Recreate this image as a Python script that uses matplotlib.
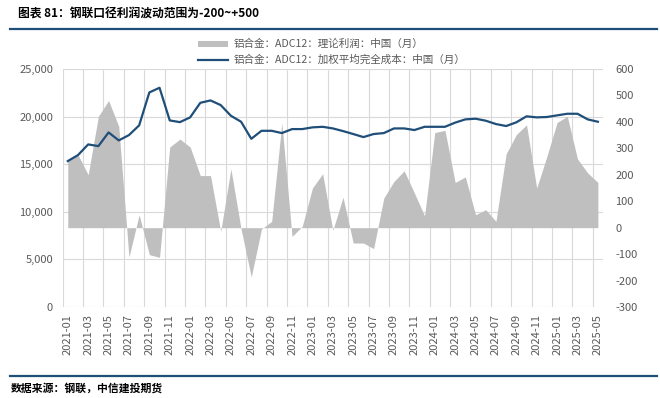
import matplotlib
matplotlib.use("Agg")
import matplotlib.pyplot as plt
import numpy as np
import pandas as pd

plt.rcParams["font.family"] = ["Noto Sans CJK SC", "DejaVu Sans"]
plt.rcParams["axes.unicode_minus"] = False

# ── Data ──────────────────────────────────────────────────────
months = pd.period_range("2021-01", "2025-05", freq="M").strftime("%Y-%m").tolist()

cost = [15330, 15960, 17080, 16900, 18340, 17500, 18060, 19080, 22540, 23030,
        19600, 19420, 19920, 21450, 21700, 21210, 20090, 19460, 17670, 18510,
        18510, 18270, 18690, 18690, 18870, 18930, 18760, 18480, 18170, 17850,
        18170, 18270, 18760, 18760, 18590, 18930, 18930, 18930, 19370, 19710,
        19780, 19570, 19220, 19010, 19400, 20030, 19920, 19960, 20130, 20300,
        20300, 19710, 19460]

profit = [257, 276, 200, 421, 481, 383, -111, 49, -102, -112,
          305, 335, 305, 197, 197, -14, 222, -5, -186, -5,
          24, 396, -33, 5, 150, 204, -10, 115, -58, -58,
          -79, 112, 175, 215, 131, 45, 360, 368, 171, 192,
          49, 68, 24, 279, 352, 389, 150, 270, 398, 421,
          260, 207, 171]

profit_label = "铝合金：ADC12：理论利润：中国（月）"
cost_label = "铝合金：ADC12：加权平均完全成本：中国（月）"

NAVY = "#1F4E79"
GREY_AREA = "#BFBFBF"
GRID = "#D9D9D9"
TICK = "#595959"

x = np.arange(len(months))

fig = plt.figure(figsize=(6.6, 3.98), dpi=100)
ax = fig.add_axes([0.095, 0.2286, 0.8186, 0.598])

# left axis: grid + ticks only
ax.set_xlim(-0.5, len(months) - 0.5)
ax.set_ylim(0, 25000)
ax.set_yticks(np.arange(0, 25001, 5000))
ax.set_yticklabels([f"{v:,}" for v in range(0, 25001, 5000)])
ax.set_xticks(x[::2])
ax.set_xticklabels(months[::2], rotation=90)
ax.set_xticks(np.arange(-0.5, len(months), 2), minor=True)
ax.grid(axis="y", color=GRID, linewidth=0.8)
ax.grid(axis="x", which="minor", color=GRID, linewidth=0.8)
ax.tick_params(axis="both", which="both", length=0, colors=TICK, labelsize=8)
ax.tick_params(axis="y", pad=7)
ax.tick_params(axis="x", pad=5)
for s in ax.spines.values():
    s.set_visible(False)

# right axis: profit area
ax2 = ax.twinx()
ax2.fill_between(x, 0, profit, color=GREY_AREA, linewidth=0, label=profit_label)
ax2.set_ylim(-300, 600)
ax2.set_yticks(np.arange(-300, 601, 100))
ax2.tick_params(axis="y", length=0, colors=TICK, labelsize=8, pad=9)
for s in ax2.spines.values():
    s.set_visible(False)

# cost line on top, left scale
ax3 = ax.twinx()
ax3.plot(x, cost, color=NAVY, linewidth=1.6, label=cost_label)
ax3.set_ylim(ax.get_ylim())
ax3.set_yticks([])
for s in ax3.spines.values():
    s.set_visible(False)

h2, l2 = ax2.get_legend_handles_labels()
h3, l3 = ax3.get_legend_handles_labels()
fig.legend(h2 + h3, l2 + l3, loc="upper left", bbox_to_anchor=(0.292, 0.915),
           frameon=False, fontsize=7.6, handlelength=2.8, handleheight=0.5,
           labelspacing=0.5, borderpad=0, handletextpad=0.6, labelcolor=TICK)

# header / footer
fig.text(0.027, 0.965, "图表 81：钢联口径利润波动范围为-200~+500",
         fontsize=8.5, fontweight="bold", color="#000000", va="center")
fig.add_artist(plt.Line2D([0.015, 0.995], [0.926, 0.926], color=NAVY, linewidth=1.6))
fig.add_artist(plt.Line2D([0.015, 0.995], [0.055, 0.055], color=NAVY, linewidth=1.6))
fig.text(0.016, 0.025, "数据来源：钢联，中信建投期货",
         fontsize=7.8, fontweight="bold", color="#000000", va="center")

fig.savefig("out.png", dpi=100)
